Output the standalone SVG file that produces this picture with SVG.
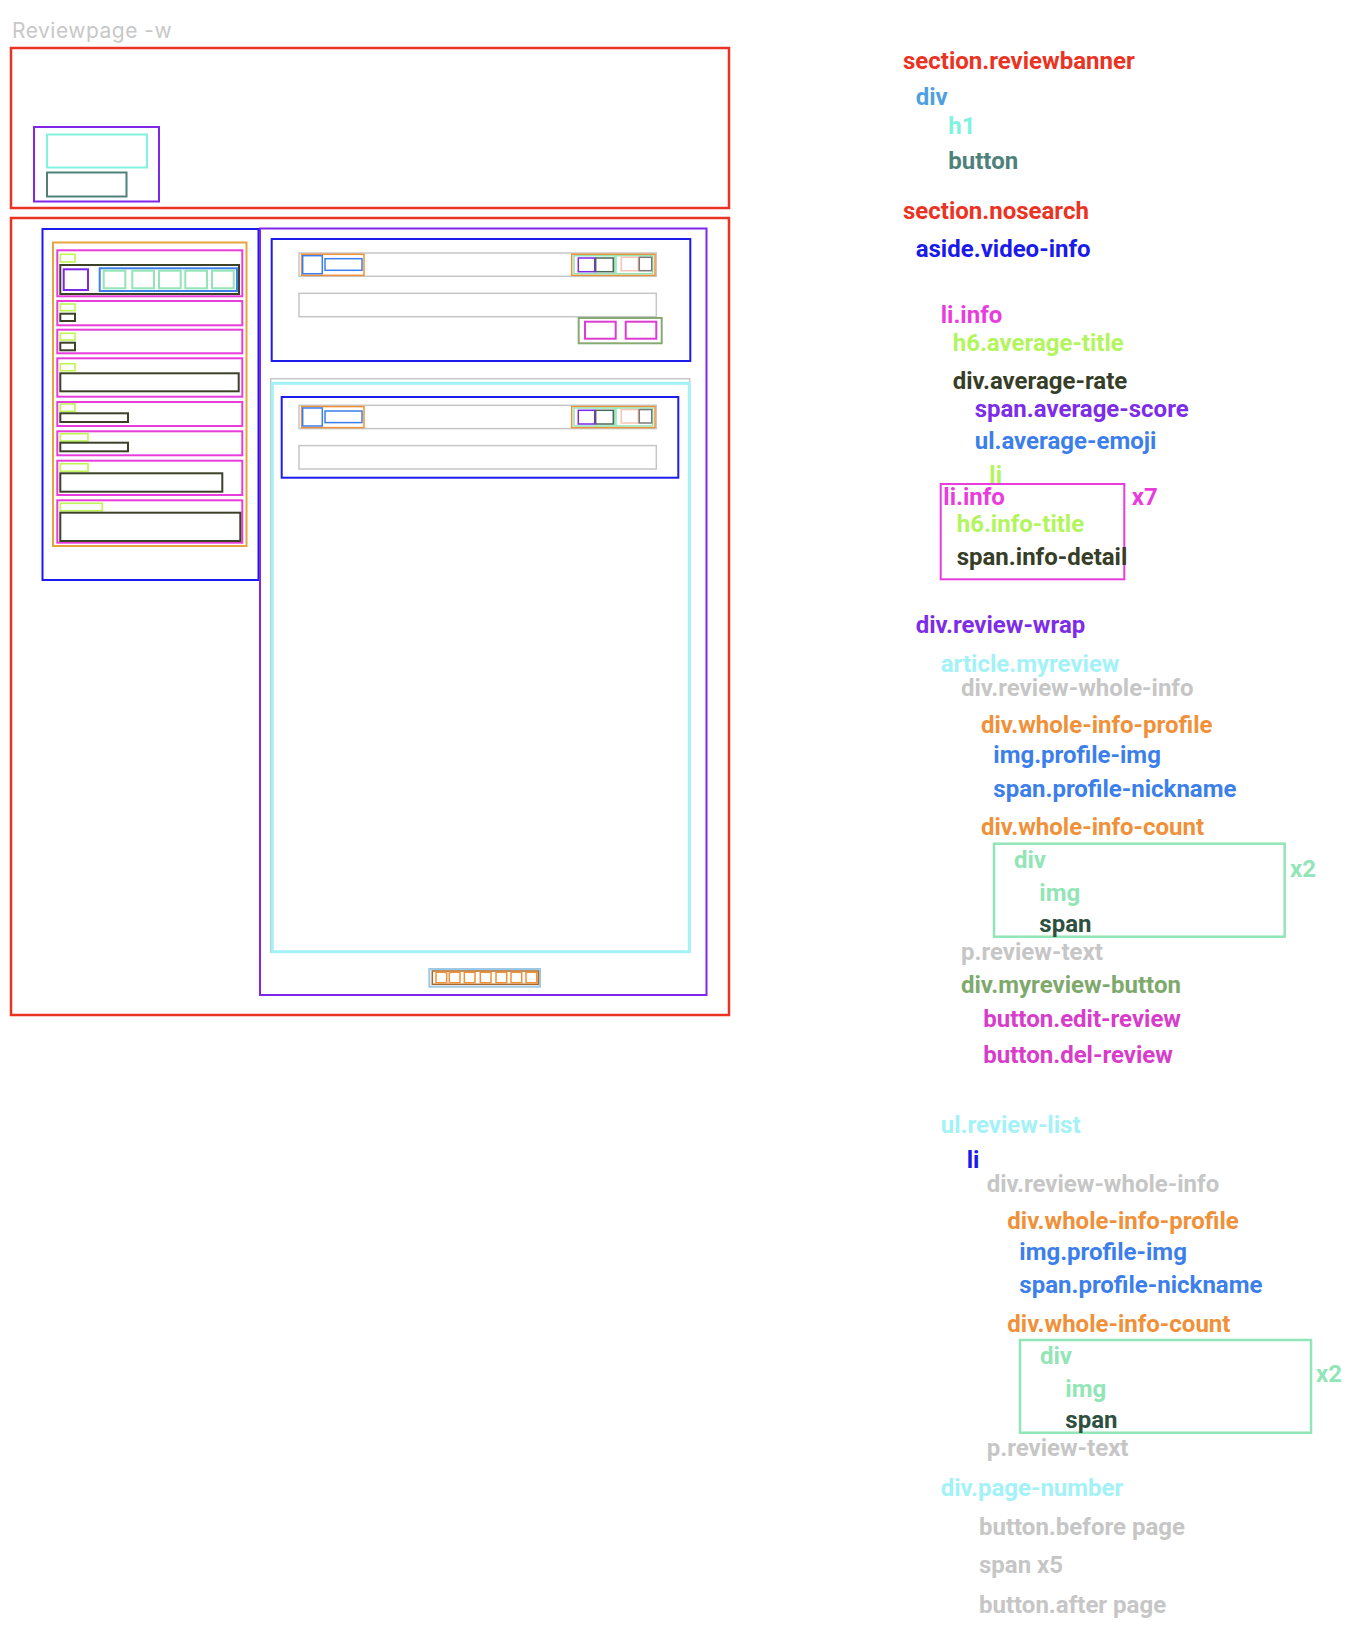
<svg xmlns="http://www.w3.org/2000/svg" width="1356" height="1628" viewBox="0 0 1356 1628">
<style>
rect{fill:none;stroke-width:2}
.red{stroke:#ea3323;stroke-width:2.5}
.pur{stroke:#8026ea}
.aqua{stroke:#80f2df}
.teal{stroke:#4e817a}
.blue{stroke:#1c1ced}
.gold{stroke:#e6a43e}
.mag{stroke:#e93cdc}
.lime{stroke:#bdf552;stroke-width:1.6}
.olive{stroke:#3b4228}
.eblue{stroke:#3d7fea}
.mint{stroke:#92e5b6}
.gray{stroke:#c6c6c6}
.org{stroke:#f0913a}
.thin{stroke-width:1.5}
.dspan{stroke:#4d6659}
.salm{stroke:#f7c4b4}
.gspan{stroke:#7a7a7a}
.ogreen{stroke:#86aa72}
.bmag{stroke:#dc3ccf}
.cyan{stroke:#a3f2f8;stroke-width:3}
.lblue{stroke:#9ec9e6}
.brown{stroke:#a8682a}
text{font-family:Roboto,"Liberation Sans",sans-serif;font-size:24px;font-weight:700}
.title{font-family:Inter,"Liberation Sans",sans-serif;font-size:21px;font-weight:400;letter-spacing:0.5px;fill:#c8c8c8}
.t-red{fill:#ea3323}
.t-div{fill:#4fa0e0}
.t-aqua{fill:#7ff3e0}
.t-teal{fill:#4e817a}
.t-blue{fill:#1a1aeb}
.t-mag{fill:#e93cdc}
.t-lime{fill:#b2f55e}
.t-olive{fill:#363e27}
.t-pur{fill:#7d2ce8}
.t-eblue{fill:#3d7fea}
.t-cyan{fill:#a3f2f8}
.t-gray{fill:#c6c6c6}
.t-org{fill:#f0913a}
.t-mint{fill:#92e5b6}
.t-dgreen{fill:#2d5040}
.t-ogreen{fill:#7ea96c}
.t-bmag{fill:#d83ccb}
</style>
<defs>
<g id="whole-info">
<rect class="gray thin" x="0" y="0" width="357.3" height="23.3"/>
<rect class="org thin" x="2.7" y="1.3" width="62.3" height="21"/>
<rect class="eblue thin" x="3.7" y="2.7" width="19.6" height="18"/>
<rect class="eblue thin" x="26" y="5.7" width="37" height="11.6"/>
<rect class="org thin" x="272.7" y="1.3" width="83.3" height="21"/>
<rect class="mint thin" x="275" y="2.7" width="40.7" height="18"/>
<rect class="pur thin" x="279.3" y="5" width="16.4" height="13.7"/>
<rect class="dspan thin" x="296.7" y="5" width="17.6" height="13.7"/>
<rect class="mint thin" x="317" y="2.7" width="36.7" height="18"/>
<rect class="salm thin" x="322.3" y="4.3" width="17" height="13.4"/>
<rect class="gspan thin" x="340.3" y="4.3" width="12.4" height="13.4"/>
<rect class="gray thin" x="0" y="40.3" width="357.3" height="23.4"/>
</g>
</defs>

<text class="title" x="12" y="37.5">Reviewpage -w</text>

<g id="section-reviewbanner">
<rect class="red" x="11" y="48" width="718" height="160"/>
<g id="banner-div">
<rect class="pur" x="34" y="127" width="125" height="74.5"/>
<rect id="banner-h1" class="aqua" x="47" y="134.5" width="100" height="33"/>
<rect id="banner-button" class="teal" x="47" y="172.5" width="79.5" height="24"/>
</g>
</g>

<g id="section-nosearch">
<rect class="red" x="11" y="218" width="718" height="797"/>
<g id="aside-video-info">
<rect class="blue" x="42.5" y="229" width="216" height="351"/>
<rect class="gold" x="53" y="242.5" width="193.5" height="303.5"/>
<g id="li-info-average">
<rect class="mag" x="57.3" y="250.3" width="185" height="46"/>
<rect class="lime" x="60.3" y="254.3" width="14.7" height="7.7"/>
<rect class="olive" x="60.3" y="265" width="178.7" height="29"/>
<rect class="pur" x="63.7" y="269.3" width="24.3" height="20.7"/>
<rect class="eblue" x="99.7" y="268.3" width="137.3" height="22.7"/>
<rect class="mint" x="103.7" y="270.7" width="21.6" height="17.6"/>
<rect class="mint" x="132.3" y="270.7" width="21.7" height="17.6"/>
<rect class="mint" x="159" y="270.7" width="21.7" height="17.6"/>
<rect class="mint" x="185.3" y="270.7" width="21.7" height="17.6"/>
<rect class="mint" x="212" y="270.7" width="21.7" height="17.6"/>
</g>
<g id="li-info-2"><rect class="mag" x="57.3" y="301" width="185" height="24.3"/><rect class="lime" x="60.3" y="304" width="14.7" height="6.7"/><rect class="olive" x="60.3" y="313.7" width="14.7" height="7.3"/></g>
<g id="li-info-3"><rect class="mag" x="57.3" y="329.7" width="185" height="23.6"/><rect class="lime" x="60.3" y="333.3" width="14.7" height="6.7"/><rect class="olive" x="60.3" y="342.7" width="14.7" height="7.6"/></g>
<g id="li-info-4"><rect class="mag" x="57.3" y="358.3" width="185" height="38.4"/><rect class="lime" x="60.3" y="363.7" width="14.7" height="7"/><rect class="olive" x="60.3" y="373.3" width="178.4" height="18"/></g>
<g id="li-info-5"><rect class="mag" x="57.3" y="402" width="185" height="24"/><rect class="lime" x="60.3" y="404" width="14.7" height="7.3"/><rect class="olive" x="60.3" y="413.3" width="67.7" height="8.7"/></g>
<g id="li-info-6"><rect class="mag" x="57.3" y="431.3" width="185" height="24"/><rect class="lime" x="60.3" y="433.7" width="27.7" height="7.3"/><rect class="olive" x="60.3" y="442.7" width="67.7" height="8.6"/></g>
<g id="li-info-7"><rect class="mag" x="57.3" y="460.7" width="185" height="34.3"/><rect class="lime" x="60.3" y="463.7" width="27.7" height="7.6"/><rect class="olive" x="60.3" y="473.3" width="162" height="18.4"/></g>
<g id="li-info-8"><rect class="mag" x="57.3" y="500.3" width="185" height="42.4"/><rect class="lime" x="60.3" y="503.3" width="42" height="7.4"/><rect class="olive" x="60.3" y="512.7" width="180" height="28.3"/></g>
</g>

<g id="div-review-wrap">
<rect class="pur" x="260" y="228.5" width="446.5" height="766.5"/>
<g id="article-myreview">
<rect class="blue" x="271.7" y="239" width="418.6" height="122"/>
<use href="#whole-info" x="299" y="253"/>
<g id="myreview-button">
<rect class="ogreen" x="578.7" y="318" width="83" height="25.3"/>
<rect class="bmag" x="585" y="321.7" width="30.7" height="17"/>
<rect class="bmag" x="625.7" y="321.7" width="30.6" height="17"/>
</g>
</g>
<g id="ul-review-list">
<rect class="gray thin" x="270.7" y="378.7" width="419" height="573.6"/>
<rect class="cyan" x="272.3" y="383.3" width="417" height="568.4"/>
<g id="review-li">
<rect class="blue" x="281.7" y="397" width="396.6" height="80.7"/>
<use href="#whole-info" x="299" y="405.3"/>
</g>
</g>
<g id="div-page-number">
<rect class="lblue" x="429.3" y="969" width="110.7" height="17.7"/>
<rect class="brown thin" x="432.3" y="971" width="106" height="13.3"/>
<rect class="org thin" x="436" y="972.3" width="10.7" height="10.4"/>
<rect class="org thin" x="449.3" y="972.3" width="10.7" height="10.4"/>
<rect class="org thin" x="464.3" y="972.3" width="10.7" height="10.4"/>
<rect class="org thin" x="480.3" y="972.3" width="10.7" height="10.4"/>
<rect class="org thin" x="496" y="972.3" width="10.7" height="10.4"/>
<rect class="org thin" x="511" y="972.3" width="10.7" height="10.4"/>
<rect class="org thin" x="526" y="972.3" width="10.7" height="10.4"/>
</g>
</g>
</g>

<g id="connectors"></g>

<g id="legend">
<text class="t-red" x="903" y="69.3">section.reviewbanner</text>
<text class="t-div" x="915.7" y="105.3">div</text>
<text class="t-aqua" x="948.3" y="133.7">h1</text>
<text class="t-teal" x="948.3" y="169.3">button</text>
<text class="t-red" x="903" y="218.7">section.nosearch</text>
<text class="t-blue" x="915.7" y="257">aside.video-info</text>
<text class="t-mag" x="940.7" y="323">li.info</text>
<text class="t-lime" x="952.7" y="351">h6.average-title</text>
<text class="t-olive" x="952.7" y="389">div.average-rate</text>
<text class="t-pur" x="974.7" y="417.3">span.average-score</text>
<text class="t-eblue" x="974.7" y="448.7">ul.average-emoji</text>
<text class="t-lime" x="989.3" y="482.5">li</text>
<g id="li-info-repeat">
<rect class="mag" x="940.7" y="484" width="183.6" height="95.3"/>
<text class="t-mag" x="943.3" y="504.7">li.info</text>
<text class="t-mag" x="1131.7" y="504.7">x7</text>
<text class="t-lime" x="956.7" y="532.3">h6.info-title</text>
<text class="t-olive" x="956.7" y="565">span.info-detail</text>
</g>
<text class="t-pur" x="915.7" y="633.3">div.review-wrap</text>
<text class="t-cyan" x="940.7" y="672">article.myreview</text>
<text class="t-gray" x="961" y="696">div.review-whole-info</text>
<text class="t-org" x="981" y="732.7">div.whole-info-profile</text>
<text class="t-eblue" x="993.3" y="763.3">img.profile-img</text>
<text class="t-eblue" x="993.3" y="796.7">span.profile-nickname</text>
<text class="t-org" x="981" y="835.3">div.whole-info-count</text>
<g id="count-repeat-1">
<rect class="mint" x="994" y="843.7" width="290.7" height="93" style="stroke-width:2.5"/>
<text class="t-mint" x="1014" y="868">div</text>
<text class="t-mint" x="1039.3" y="900.7">img</text>
<text class="t-dgreen" x="1039.3" y="932.3">span</text>
<text class="t-mint" x="1290" y="876.7">x2</text>
</g>
<text class="t-gray" x="961" y="960">p.review-text</text>
<text class="t-ogreen" x="961" y="993.3">div.myreview-button</text>
<text class="t-bmag" x="983.3" y="1026.7">button.edit-review</text>
<text class="t-bmag" x="983.3" y="1062.7">button.del-review</text>
<text class="t-cyan" x="940.7" y="1133.3">ul.review-list</text>
<text class="t-blue" x="966.7" y="1168.3">li</text>
<text class="t-gray" x="986.7" y="1191.7">div.review-whole-info</text>
<text class="t-org" x="1007.3" y="1229.3">div.whole-info-profile</text>
<text class="t-eblue" x="1019.3" y="1260">img.profile-img</text>
<text class="t-eblue" x="1019.3" y="1293.3">span.profile-nickname</text>
<text class="t-org" x="1007.3" y="1331.7">div.whole-info-count</text>
<g id="count-repeat-2">
<rect class="mint" x="1020" y="1340" width="291" height="92.7" style="stroke-width:2.5"/>
<text class="t-mint" x="1040" y="1364">div</text>
<text class="t-mint" x="1065.3" y="1396.7">img</text>
<text class="t-dgreen" x="1065.3" y="1428">span</text>
<text class="t-mint" x="1316" y="1381.7">x2</text>
</g>
<text class="t-gray" x="986.7" y="1456">p.review-text</text>
<text class="t-cyan" x="940.7" y="1496">div.page-number</text>
<text class="t-gray" x="979" y="1535">button.before page</text>
<text class="t-gray" x="979" y="1573.3">span x5</text>
<text class="t-gray" x="979" y="1612.7">button.after page</text>
</g>
</svg>
